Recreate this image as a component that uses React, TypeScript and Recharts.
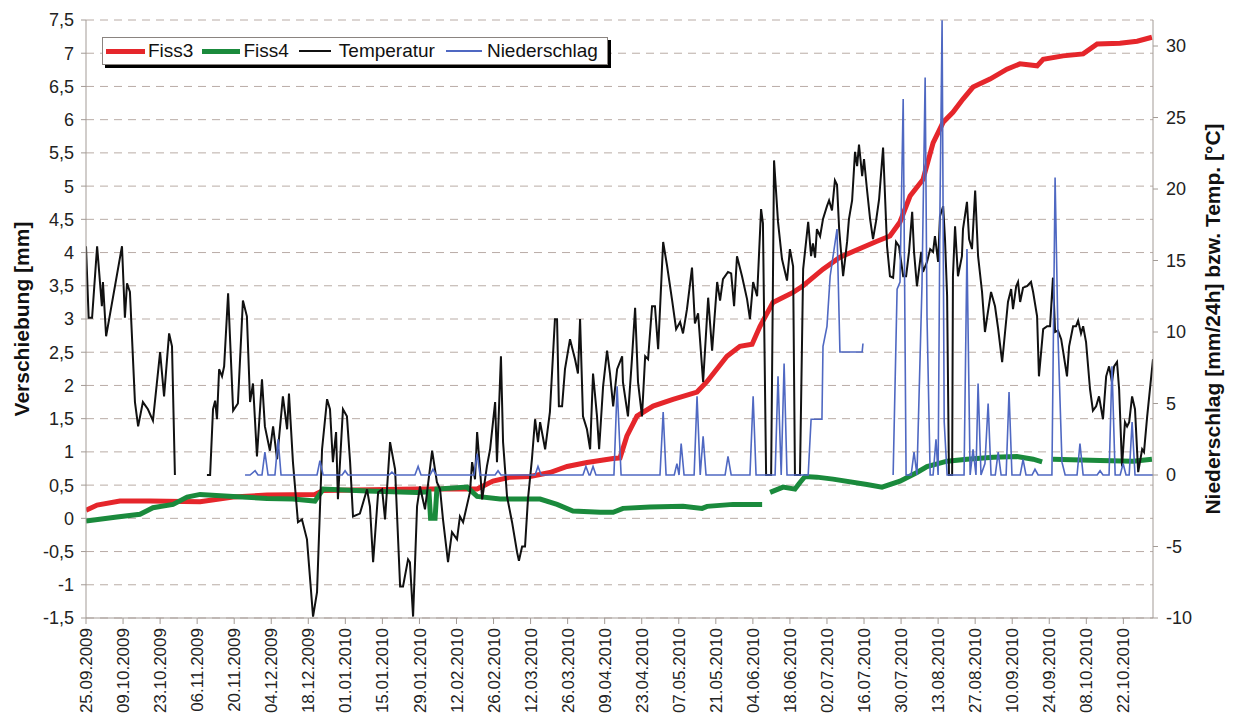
import React from 'react';
import { LineChart, Line, XAxis, YAxis, CartesianGrid } from 'recharts';

// x-axis: days since 25.09.2009, ticks every 14 days
const dateLabels = [
  '25.09.2009', '09.10.2009', '23.10.2009', '06.11.2009', '20.11.2009', '04.12.2009',
  '18.12.2009', '01.01.2010', '15.01.2010', '29.01.2010', '12.02.2010', '26.02.2010',
  '12.03.2010', '26.03.2010', '09.04.2010', '23.04.2010', '07.05.2010', '21.05.2010',
  '04.06.2010', '18.06.2010', '02.07.2010', '16.07.2010', '30.07.2010', '13.08.2010',
  '27.08.2010', '10.09.2010', '24.09.2010', '08.10.2010', '22.10.2010',
];
const tickDays = dateLabels.map((_, i) => i * 14);

const leftTicks = [-1.5, -1, -0.5, 0, 0.5, 1, 1.5, 2, 2.5, 3, 3.5, 4, 4.5, 5, 5.5, 6, 6.5, 7, 7.5];
const rightTicks = [-10, -5, 0, 5, 10, 15, 20, 25, 30];

// [day, mm] – Fiss3
const fiss3: [number, number | null][] = [
  [0, 0.12], [4.2, 0.2], [12.8, 0.26], [24.2, 0.26], [43.1, 0.25], [55.6, 0.32], [68.4, 0.35],
  [86.5, 0.36], [89.6, 0.42], [125.1, 0.44], [147.8, 0.44], [153.8, 0.56], [160.2, 0.62],
  [167.8, 0.63], [175.3, 0.69], [181.8, 0.78], [189.3, 0.84], [199.2, 0.9], [201.8, 0.91],
  [204.4, 1.24], [208.2, 1.54], [214.3, 1.69], [221.8, 1.79], [230.9, 1.9], [234.7, 2.06],
  [242.2, 2.44], [247.1, 2.59], [251.7, 2.62], [254.7, 2.89], [259.6, 3.25], [267.2, 3.4],
  [271.0, 3.5], [278.5, 3.75], [284.9, 3.93], [293.6, 4.08], [298.9, 4.17], [303.8, 4.25],
  [307.6, 4.46], [311.4, 4.85], [316.3, 5.1], [320.1, 5.65], [323.9, 5.96], [327.6, 6.11],
  [331.4, 6.31], [335.2, 6.49], [341.6, 6.61], [348.0, 6.76], [352.9, 6.84], [359.4, 6.81],
  [361.7, 6.91], [369.2, 6.96], [376.8, 6.99], [382.1, 7.14], [390.7, 7.15], [397.2, 7.18],
  [402.8, 7.24],
];

// [day, mm] – Fiss4
const fiss4: [number, number | null][] = [
  [0, -0.04], [11.7, 0.02], [20.4, 0.06], [25.3, 0.16], [32.9, 0.21], [38.2, 0.32], [43.1, 0.36],
  [55.6, 0.33], [68.4, 0.3], [78.2, 0.29], [86.5, 0.26], [89.6, 0.44], [106.2, 0.41],
  [125.1, 0.39], [129.6, 0.4], [130.2, 0.0], [131.9, 0.0], [132.6, 0.44], [144.0, 0.47],
  [147.8, 0.33], [156.5, 0.29], [171.6, 0.29], [178.0, 0.21], [184.0, 0.11], [194.3, 0.09],
  [199.2, 0.09], [202.9, 0.15], [213.1, 0.17], [225.6, 0.18], [232.8, 0.15], [234.7, 0.18],
  [244.5, 0.21], [255.5, 0.21], [257, null], [258.5, 0.39], [263.4, 0.47], [267.9, 0.44],
  [269.8, 0.54], [271.7, 0.63], [276.2, 0.62], [282.3, 0.59], [295.1, 0.51], [300.8, 0.47],
  [307.6, 0.56], [314.0, 0.69], [317.8, 0.78], [325.4, 0.86], [332.9, 0.89], [342.8, 0.92],
  [351.8, 0.93], [357.9, 0.89], [361.3, 0.85], [363, null], [365.4, 0.89], [383.2, 0.87],
  [395.7, 0.86], [402.8, 0.89],
];

// [day, °C] – Temperatur
const temperatur: [number, number | null][] = [
  [0, 16.0], [1, 11.0], [2.3, 11.0], [4.2, 16.0], [6.0, 11.8], [6.4, 13.5], [7.6, 9.7],
  [13.6, 16.0], [14.7, 11.0], [15.5, 13.4], [16.6, 12.8], [18.5, 5.1], [19.7, 3.4], [21.5, 5.1],
  [23.4, 4.6], [25.3, 3.8], [28.0, 8.6], [29.5, 5.5], [31.4, 9.9], [32.5, 9.0], [33.6, 0],
  [40, null], [45.7, 0], [46.9, 0], [48.0, 4.6], [48.8, 5.2], [49.5, 3.9], [50.3, 7.4],
  [51.4, 6.9], [52.2, 7.6], [53.7, 12.7], [55.6, 4.5], [57.4, 5.0], [59.3, 12.2], [60.8, 11.1],
  [62.0, 5.1], [63.1, 6.4], [64.6, 1.3], [66.5, 6.7], [67.6, 3.4], [69.5, 1.7], [70.7, 3.4],
  [72.2, 1.1], [74.4, 5.5], [76.0, 3.2], [76.7, 5.7], [78.2, 0.9], [80.1, -3.3], [81.6, -3.1],
  [83.5, -4.5], [85.8, -9.9], [87.3, -8.2], [89.2, 1.8], [91.1, 5.3], [92.2, 4.6], [93.3, 0.9],
  [94.5, 3.0], [95.2, -1.7], [97.1, 4.6], [98.6, 4.1], [99.8, 0.9], [100.9, -2.9], [103.5, -2.7],
  [106.2, -1.0], [107.3, -2.2], [108.5, -6.1], [110.4, -1.2], [111.9, -1.0], [113.0, -3.1],
  [114.9, 2.3], [116.8, 0.4], [118.7, -7.8], [119.8, -7.8], [121.7, -5.9], [122.4, -6.1],
  [123.6, -9.9], [125.1, -2.2], [126.2, -0.8], [128.1, -2.4], [130.8, 1.7], [132.6, -0.5],
  [133.8, -1.0], [134.9, -3.1], [136.8, -6.1], [138.3, -4.0], [140.2, -4.5], [141.3, -2.9],
  [142.5, -3.3], [145.1, -1.2], [145.9, 0.9], [147.0, -0.3], [147.8, 3.0], [148.9, 0.4],
  [149.7, -1.7], [151.5, 0.6], [152.7, 1.8], [154.6, 5.1], [155.3, 0.9], [156.8, 8.3],
  [157.6, 2.3], [159.1, -1.5], [161.0, -3.3], [162.9, -5.4], [163.6, -6.0], [164.8, -5.0],
  [165.9, -5.0], [167.0, -1.7], [168.5, 1.1], [169.7, 3.9], [170.8, 2.3], [171.6, 3.7],
  [173.5, 1.8], [175.3, 4.4], [177.2, 10.9], [178.0, 10.9], [178.7, 4.8], [179.9, 4.8],
  [181.0, 7.4], [182.9, 9.5], [184.8, 8.1], [185.9, 7.1], [186.7, 10.9], [187.8, 4.1],
  [189.3, 3.2], [190.5, 1.8], [191.6, 7.1], [193.1, 4.1], [193.9, 1.8], [195.4, 6.2],
  [196.9, 8.7], [198.0, 7.1], [199.2, 4.8], [200.7, 7.4], [202.6, 8.3], [202.9, 6.5],
  [204.8, 4.1], [206.3, 8.1], [207.5, 11.7], [208.6, 6.5], [210.1, 4.1], [211.3, 8.3],
  [212.4, 8.1], [213.9, 11.8], [215.0, 11.8], [216.2, 8.8], [218.1, 16.3], [219.6, 14.6],
  [221.5, 12.2], [223.0, 10.2], [224.5, 10.7], [225.6, 9.9], [227.1, 11.6], [229.0, 14.5],
  [230.1, 10.6], [231.3, 11.3], [233.2, 6.5], [235.1, 12.4], [236.6, 8.7], [238.5, 13.5],
  [239.6, 12.2], [240.7, 13.7], [242.6, 14.2], [243.8, 14.1], [244.9, 11.8], [246.0, 15.3],
  [247.9, 13.9], [249.8, 12.3], [250.9, 10.9], [252.1, 13.5], [253.6, 12.5], [255.1, 18.6],
  [255.8, 17.6], [257.0, 0], [258.9, 0], [260.0, 22.0], [261.5, 17.7], [263.0, 15.1],
  [264.9, 13.6], [266.0, 15.8], [267.2, 14.6], [267.9, 0], [269.8, 0], [271.0, 14.4],
  [272.9, 17.7], [274.0, 15.3], [274.7, 16.2], [275.5, 15.2], [276.2, 17.2], [277.4, 16.7],
  [278.5, 17.9], [280.0, 18.8], [280.8, 19.2], [281.9, 18.5], [283.0, 20.6], [283.8, 20.3],
  [284.6, 17.2], [286.1, 13.9], [287.6, 16.3], [288.3, 17.9], [289.5, 19.2], [290.6, 22.6],
  [291.4, 21.6], [292.1, 23.1], [293.3, 20.9], [294.0, 22.1], [295.1, 20.0], [296.3, 17.9],
  [297.4, 16.5], [298.5, 17.7], [299.7, 19.3], [301.2, 22.9], [302.7, 16.0], [303.8, 13.9],
  [305.0, 13.8], [306.1, 16.3], [307.2, 16.0], [308.8, 13.9], [309.9, 13.9], [311.0, 15.6],
  [312.2, 18.4], [312.9, 15.6], [314.0, 13.2], [315.6, 15.6], [316.3, 14.2], [317.8, 14.9],
  [319.0, 15.8], [320.1, 15.6], [320.8, 16.7], [322.0, 14.9], [322.7, 18.1], [323.9, 18.8],
  [324.6, 16.5], [325.4, 12.5], [326.1, 0], [327.3, 0], [327.6, 13.9], [328.4, 17.4],
  [329.5, 13.9], [331.0, 15.3], [331.4, 17.2], [332.9, 19.1], [333.7, 16.5], [334.8, 15.8],
  [336.0, 19.9], [337.1, 15.3], [338.6, 12.8], [339.7, 10.0], [340.9, 11.5], [342.0, 12.8],
  [343.5, 11.8], [344.7, 10.2], [346.2, 7.9], [347.3, 10.0], [348.4, 12.1], [349.6, 13.0],
  [350.3, 11.6], [351.5, 13.2], [352.2, 13.5], [353.0, 12.1], [354.1, 13.1], [355.6, 13.2],
  [357.1, 13.5], [357.9, 12.8], [359.4, 11.1], [360.1, 6.9], [361.7, 10.2], [363.2, 10.4],
  [364.3, 10.4], [365.4, 13.8], [366.2, 10.0], [367.3, 10.1], [368.5, 9.5], [369.2, 8.7],
  [370.7, 6.9], [371.5, 9.0], [373.0, 10.4], [374.1, 10.4], [374.9, 10.8], [376.0, 9.9],
  [376.8, 10.4], [377.9, 9.3], [379.4, 6.0], [380.5, 4.5], [381.7, 4.8], [382.8, 5.5],
  [384.3, 3.9], [385.5, 6.9], [386.6, 7.6], [387.7, 6.5], [388.5, 7.6], [389.6, 7.9],
  [390.4, 6.0], [391.5, 0.6], [392.6, 3.7], [393.4, 3.4], [394.2, 3.7], [395.3, 5.5],
  [396.4, 4.6], [397.6, 0.2], [399.1, 1.8], [399.8, 1.6], [401.0, 4.1], [403.2, 8.1],
];

// [day, mm/24h] – Niederschlag
const niederschlag: [number, number | null][] = [
  [60.1, 0], [62.0, 0], [63.9, 0.3], [65.0, 0], [66.5, 0], [67.6, 1.6], [68.8, 0], [71.4, 0],
  [72.6, 2.5], [73.7, 0], [87.3, 0], [88.4, 1.0], [89.6, 0], [96.8, 0], [97.9, 0.3], [99.0, 0],
  [114.5, 0], [115.6, 0.2], [116.8, 0], [124.3, 0], [125.5, 0.6], [126.6, 0], [130.0, 0],
  [131.1, 0.4], [132.3, 0], [146.6, 0], [147.8, 1.5], [148.9, 0], [154.6, 0], [155.7, 0.3],
  [156.8, 0], [169.7, 0], [170.8, 0.6], [172.0, 0], [187.8, 0], [188.9, 0.6], [190.1, 0],
  [190.5, 0], [191.6, 0.6], [192.7, 0], [199.5, 0], [200.7, 6.2], [202.2, 0], [216.9, 0],
  [218.1, 4.4], [219.2, 0], [222.3, 0], [223.3, 0.8], [224.1, 0], [224.9, 2.2], [226.0, 0],
  [229.8, 0], [230.9, 5.5], [232.1, 0], [233.2, 2.7], [234.3, 0], [241.5, 0], [242.6, 1.3],
  [243.8, 0], [250.9, 0], [252.1, 5.5], [253.2, 0], [260.4, 0], [261.5, 6.9], [262.7, 0],
  [263.8, 7.8], [264.9, 0], [272.9, 0], [274.0, 3.9], [278.1, 3.9], [278.5, 9.0], [280.0, 10.4],
  [281.2, 13.9], [282.3, 15.3], [283.8, 17.2], [284.9, 8.6], [293.3, 8.6], [293.6, 9.2],
  [299, null], [305.0, 0], [306.5, 13.0], [307.6, 13.5], [308.8, 26.3], [309.9, 0], [311.8, 0],
  [312.9, 1.6], [314.0, 0], [315.9, 13.2], [317.1, 27.8], [317.8, 11.1], [319.0, 0], [320.1, 0],
  [321.2, 2.5], [322.0, 0], [322.7, 18.6], [323.5, 31.8], [324.3, 3.7], [325.4, 0], [331.8, 0],
  [332.9, 15.8], [334.1, 0], [335.2, 1.8], [336.3, 0], [337.1, 6.4], [338.2, 0], [339.7, 0.8],
  [340.9, 5.0], [342.0, 0], [343.6, 0], [344.7, 1.6], [345.8, 0], [347.7, 0], [348.8, 5.8],
  [349.9, 0], [353.0, 0], [354.1, 1.1], [355.2, 0], [357.5, 0], [358.6, 0.4], [359.8, 0],
  [365.0, 0], [366.2, 20.8], [367.3, 9.7], [368.8, 0.9], [370.0, 0], [374.5, 0], [375.6, 2.2],
  [376.8, 0], [382.1, 0], [383.2, 0.3], [384.3, 0], [386.6, 0], [387.7, 7.6], [388.9, 0],
  [390.8, 0], [391.9, 0.8], [393.0, 0], [394.2, 0], [395.3, 3.7], [396.4, 0], [403.2, 0],
];

const toRows = (pairs: [number, number | null][]) => pairs.map(([d, v]) => ({ d, v }));

const COLORS = { fiss3: '#e5262b', fiss4: '#1a8a3c', temp: '#111111', rain: '#4f68c2' };
const AXIS = '#a39b96';
const FONT = '"Liberation Sans", Arial, sans-serif';

const legendItems = [
  { name: 'Fiss3', color: COLORS.fiss3, thick: 5, len: 39, gap: 3, after: 9 },
  { name: 'Fiss4', color: COLORS.fiss4, thick: 5, len: 38, gap: 3, after: 10 },
  { name: 'Temperatur', color: COLORS.temp, thick: 2, len: 32, gap: 8, after: 11 },
  { name: 'Niederschlag', color: COLORS.rain, thick: 2, len: 36, gap: 5, after: 0 },
];

const XTick = (props: any) => {
  const { x, y, payload } = props;
  const idx = Math.round(payload.value / 14);
  return (
    <text
      x={x}
      y={y}
      transform={`rotate(-90 ${x} ${y})`}
      textAnchor="end"
      dy="0.36em"
      fontSize={17}
      fill="#222"
      fontFamily={FONT}
    >
      {dateLabels[idx]}
    </text>
  );
};

export default function App() {
  return (
    <div style={{ position: 'absolute', left: 0, top: 0, width: 1233, height: 725, background: '#fff', fontFamily: FONT }}>
      <LineChart width={1233} height={725} margin={{ top: 20, right: 20, left: 20, bottom: 0 }}>
        <CartesianGrid yAxisId="left" vertical={false} stroke="#b9aca6" strokeDasharray="8 6" />
        <XAxis
          type="number"
          dataKey="d"
          domain={[0, 403.2]}
          allowDataOverflow
          ticks={tickDays}
          interval={0}
          tick={<XTick />}
          tickSize={6}
          tickMargin={4}
          height={107}
          stroke={AXIS}
          tickLine={{ stroke: AXIS }}
        />
        <YAxis
          yAxisId="left"
          domain={[-1.5, 7.5]}
          allowDataOverflow
          ticks={leftTicks}
          interval={0}
          width={66}
          tickSize={5}
          tickMargin={7}
          stroke={AXIS}
          tick={{ fill: '#222', fontSize: 18, fontFamily: FONT }}
          tickFormatter={(v: number) => String(v).replace('.', ',')}
          label={{
            value: 'Verschiebung [mm]',
            angle: -90,
            position: 'insideLeft',
            offset: 2,
            style: { textAnchor: 'middle', fontSize: 21, fontWeight: 'bold', fill: '#111', fontFamily: FONT },
          }}
        />
        <YAxis
          yAxisId="right"
          orientation="right"
          domain={[-10, 31.82]}
          allowDataOverflow
          ticks={rightTicks}
          interval={0}
          width={60}
          tickSize={5}
          tickMargin={8}
          stroke={AXIS}
          tick={{ fill: '#222', fontSize: 18, fontFamily: FONT }}
          label={{
            value: 'Niederschlag [mm/24h] bzw. Temp. [°C]',
            angle: -90,
            position: 'insideRight',
            offset: 0,
            style: { textAnchor: 'middle', fontSize: 21, fontWeight: 'bold', fill: '#111', fontFamily: FONT },
          }}
        />
        <Line
          yAxisId="left"
          data={toRows(fiss3)}
          dataKey="v"
          name="Fiss3"
          stroke={COLORS.fiss3}
          strokeWidth={5}
          dot={false}
          isAnimationActive={false}
        />
        <Line
          yAxisId="left"
          data={toRows(fiss4)}
          dataKey="v"
          name="Fiss4"
          stroke={COLORS.fiss4}
          strokeWidth={5}
          dot={false}
          isAnimationActive={false}
        />
        <Line
          yAxisId="right"
          data={toRows(temperatur)}
          dataKey="v"
          name="Temperatur"
          stroke={COLORS.temp}
          strokeWidth={2}
          dot={false}
          isAnimationActive={false}
        />
        <Line
          yAxisId="right"
          data={toRows(niederschlag)}
          dataKey="v"
          name="Niederschlag"
          stroke={COLORS.rain}
          strokeWidth={1.6}
          dot={false}
          isAnimationActive={false}
        />
      </LineChart>
      <div
        style={{
          position: 'absolute',
          left: 102,
          top: 37,
          width: 506,
          height: 28,
          boxSizing: 'border-box',
          border: '1px solid #8a8480',
          background: '#fff',
          boxShadow: '3px 3px 0 #000',
          display: 'flex',
          alignItems: 'center',
          paddingLeft: 3,
          fontSize: 19,
          color: '#111',
        }}
      >
        {legendItems.map((it) => (
          <div key={it.name} style={{ display: 'flex', alignItems: 'center', marginRight: it.after }}>
            <div style={{ width: it.len, height: it.thick, background: it.color, marginRight: it.gap }} />
            <span style={{ lineHeight: '20px' }}>{it.name}</span>
          </div>
        ))}
      </div>
    </div>
  );
}
